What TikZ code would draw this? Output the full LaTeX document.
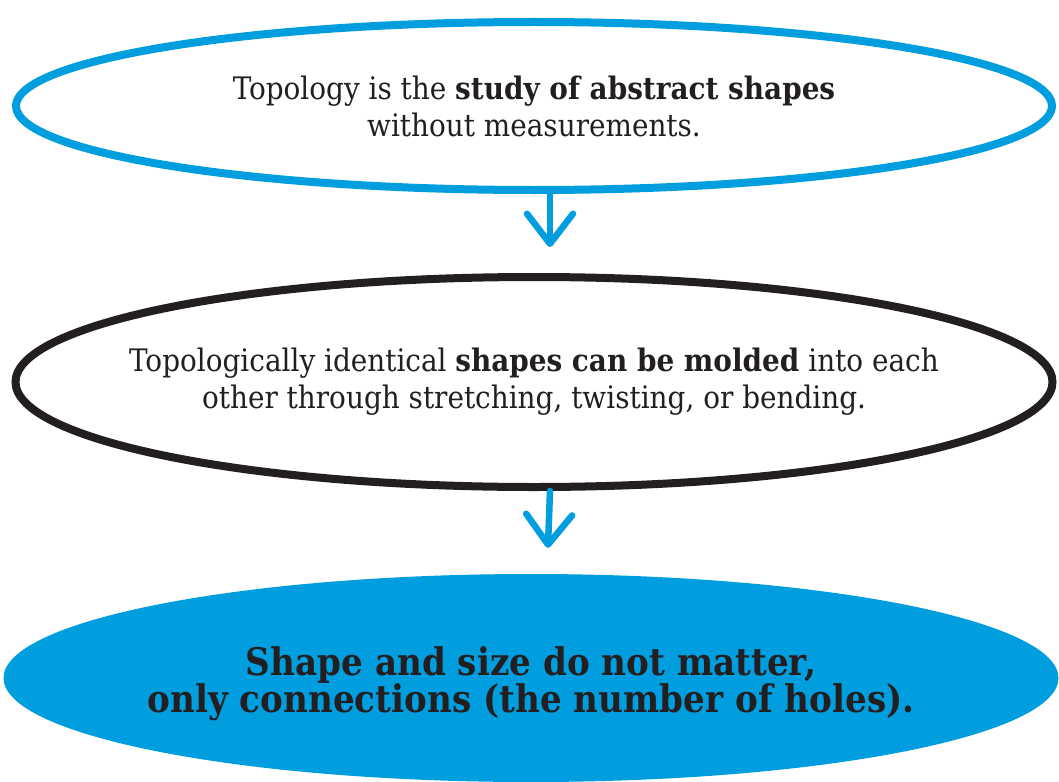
\documentclass[tikz,border=0pt]{standalone}
\usepackage{fontspec}
\setmainfont{DejaVu Serif Condensed}
\usepackage{tikz}
\usetikzlibrary{shapes.geometric,arrows.meta}
\definecolor{topoblue}{RGB}{0,158,222}
\definecolor{topoink}{RGB}{35,31,32}

\begin{document}
\begin{tikzpicture}[x=1pt,y=-1pt,
    ring/.style={draw, ellipse, line width=8pt, inner sep=0pt},
    caption/.style={align=center, text=topoink, font=\fontsize{31}{37}\selectfont},
    flow/.style={draw=topoblue, line width=6.5pt, line cap=round,
      -{Straight Barb[round,length=30pt,width=46pt]}, shorten >=26pt}]
  \useasboundingbox (0,0) rectangle (1059,781);

  % Definition
  \node[ring, draw=topoblue, minimum width=1036pt, minimum height=168pt] (topic) at (534,106) {};
  \node[caption] (topictext) at (topic.center) {Topology is the \textbf{study of abstract shapes}\\without measurements.};

  % Molding
  \node[ring, draw=topoink, minimum width=1037pt, minimum height=210pt] (molding) at (534,382) {};
  \node[caption] (moldingtext) at (molding.center) {Topologically identical \textbf{shapes can be molded} into each\\other through stretching, twisting, or bending.};

  % Conclusion
  \node[ellipse, fill=topoblue, inner sep=0pt, minimum width=1055pt, minimum height=208pt] (result) at (531,678) {};
  \node[caption, font=\fontsize{38}{37}\selectfont\bfseries] (resulttext) at ([yshift=-6pt]result.center) {Shape and size do not matter,\\only connections (the number of holes).};

  % Arrows
  \draw[flow] ([xshift=16pt]topic.south) -- ([xshift=16pt]molding.north);
  \draw[flow] ([xshift=16pt]molding.south) -- ([xshift=16pt]result.north);
\end{tikzpicture}
\end{document}
